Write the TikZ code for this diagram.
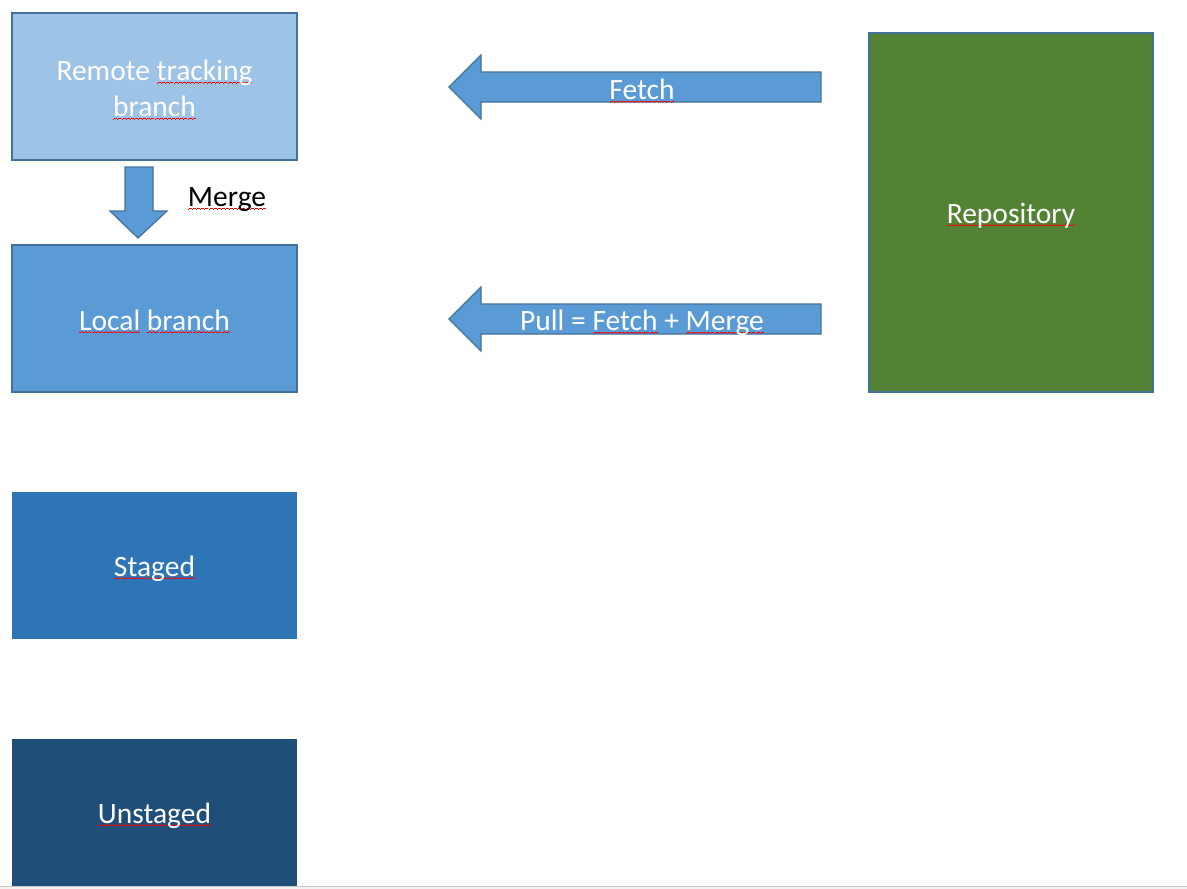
\documentclass[tikz,border=0pt]{standalone}
\usepackage{fontspec}
\setmainfont{Carlito}
\usepackage{tikz}

\definecolor{lightblue}{HTML}{9DC3E6}
\definecolor{midblue}{HTML}{5B9BD5}
\definecolor{deepblue}{HTML}{2E75B6}
\definecolor{navyblue}{HTML}{1F4E79}
\definecolor{edgeblue}{HTML}{41719C}
\definecolor{repogreen}{HTML}{548235}

% red spell check wave under a word
\newcommand\wavebit{\hbox{\rule[0pt]{1pt}{0.8pt}\rule[0.7pt]{1pt}{0.8pt}%
  \rule[1.4pt]{1pt}{0.8pt}\rule[0.7pt]{1pt}{0.8pt}}}
\newcommand\redwave[1]{\setbox0\hbox{#1}%
  \rlap{\color{red}\lower3pt\hbox to\wd0{\xleaders\wavebit\hfill}}\box0\relax}

\begin{document}
\begin{tikzpicture}[x=1pt,y=-1pt,
    box/.style={minimum width=285pt,minimum height=147pt,inner sep=0pt},
    lbl/.style={inner sep=0pt,text=white,align=center,font=\fontsize{29.5}{36}\selectfont},
    blockarrow/.style={draw=edgeblue,fill=midblue,line width=1.2pt,line join=miter}]
    \useasboundingbox (0,0) rectangle (1187,889);
    % branches on the left
    \node[box,fill=lightblue,draw=edgeblue,line width=1.3pt] (remote) at (154.5,86.5) {};
    \node[box,fill=midblue,draw=edgeblue,line width=1.3pt] (local) at (154.5,318.5) {};
    \node[box,fill=deepblue] (staged) at (154.5,565.5) {};
    \node[box,fill=navyblue] (unstaged) at (154.5,812.5) {};
    % remote side
    \node[box,minimum width=284pt,minimum height=359pt,fill=repogreen,draw=edgeblue,
      line width=1.3pt] (repo) at (1011,212.5) {};
    \node[lbl] (remotetxt) at ([yshift=-3.5pt]remote.center)
      {Remote \redwave{tracking}\\\redwave{branch}};
    \node[lbl] (localtxt) at ([yshift=-3pt]local.center) {\redwave{Local} \redwave{branch}};
    \node[lbl] (stagedtxt) at ([yshift=-3pt]staged.center) {\redwave{Staged}};
    \node[lbl] (unstagedtxt) at ([yshift=-3pt]unstaged.center) {\redwave{Unstaged}};
    \node[lbl] (repotxt) at ([yshift=-3pt]repo.center) {\redwave{Repository}};
    % block arrows
    \draw[blockarrow] (125,167) -- (153,167) -- (153,211) -- (167,211) -- (138,238)
      -- (110,211) -- (125,211) -- cycle;
    \foreach \y in {87,319}
    \draw[blockarrow] (449,\y) -- (481,\y-32) -- (481,\y-15) -- (821,\y-15)
      -- (821,\y+15) -- (481,\y+15) -- (481,\y+32) -- cycle;
    \node[lbl,text=black] (mergetxt) at (227,200) {\redwave{Merge}};
    \node[lbl] (fetchtxt) at (642,91) {\redwave{Fetch}};
    \node[lbl] (pulltxt) at (642,323) {Pull = \redwave{Fetch} + \redwave{Merge}};
    % bottom edge of the page
    \fill[gray!10] (0,886) rectangle (1187,889);
    \draw[gray!45,line width=1pt] (0,886) -- (1187,886);
\end{tikzpicture}
\end{document}
